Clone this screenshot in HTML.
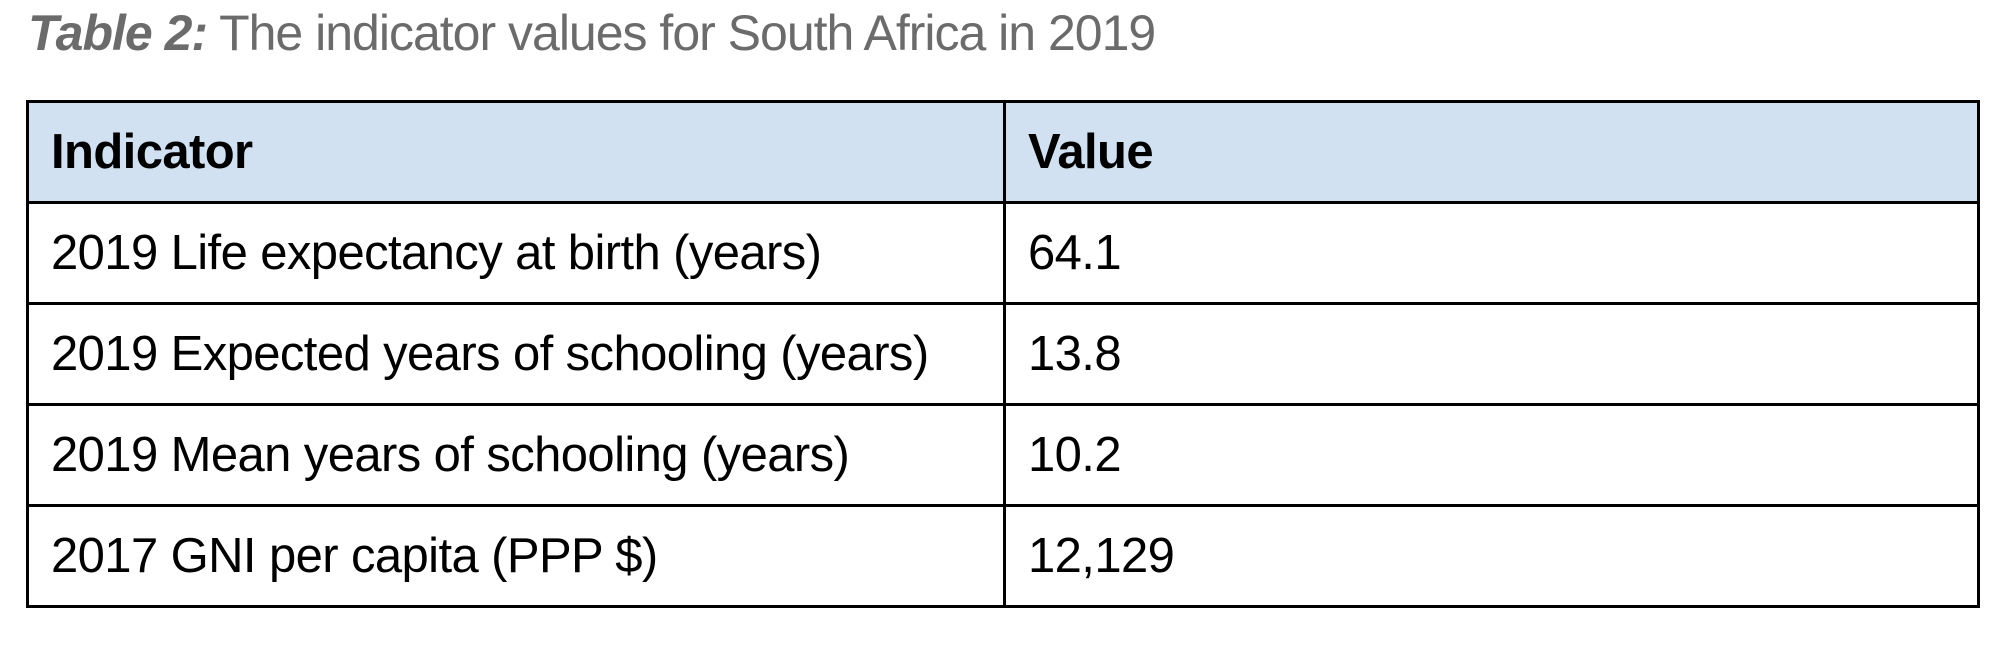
<!DOCTYPE html>
<html><head><meta charset="utf-8"><style>
body{margin:0;width:2002px;height:646px;background:#fff;font-family:"Liberation Sans",Arial,sans-serif;position:relative;overflow:hidden}
#title{position:absolute;left:28px;top:4px;font-size:50px;color:#6b6b6b;letter-spacing:-1px;white-space:nowrap}
#title b{font-style:italic}
table{position:absolute;left:26px;top:100px;width:1954px;border-collapse:collapse;font-size:49px;letter-spacing:-0.6px}
td,th{border:3px solid #000;height:98px;padding:0 0 0 22px;text-align:left;vertical-align:middle}
th{background:#d2e1f1;font-weight:bold}
td:first-child,th:first-child{width:952px}
</style></head><body>
<div id="title"><b>Table 2:</b> The indicator values for South Africa in 2019</div>
<table>
<tr><th>Indicator</th><th>Value</th></tr>
<tr><td>2019 Life expectancy at birth (years)</td><td>64.1</td></tr>
<tr><td>2019 Expected years of schooling (years)</td><td>13.8</td></tr>
<tr><td>2019 Mean years of schooling (years)</td><td>10.2</td></tr>
<tr><td>2017 GNI per capita (PPP $)</td><td>12,129</td></tr>
</table>
</body></html>
